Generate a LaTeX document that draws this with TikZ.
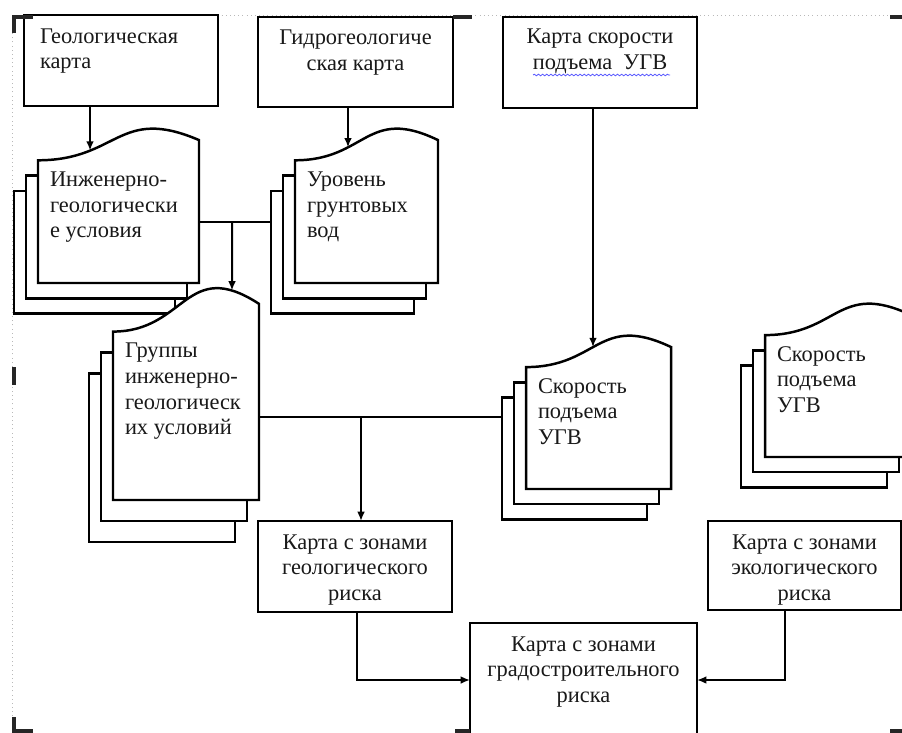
\documentclass[tikz,border=0pt]{standalone}
\usepackage{fontspec}
\setmainfont{Liberation Serif}
\usetikzlibrary{arrows.meta,intersections,decorations.pathmorphing}
\newlength\px
\setlength\px{0.625pt}
\newcommand\dfont{\fontsize{14pt}{16.1pt}\selectfont}
\tikzset{
  ln/.style={line width=1.55pt, draw=black, line join=miter},
  page/.style={ln, fill=white, rectangle, inner sep=0pt, outer sep=0pt},
  con/.style={line width=1.25pt},
  arr/.style={line width=1.25pt, -{Latex[length=5.8pt,width=4.8pt]}},
  doctext/.style={inner sep=0pt, outer sep=0pt, anchor=base west, font=\dfont, text=black!90},
  box/.style={ln, fill=white, inner sep=0pt, outer sep=0pt, anchor=north west, font=\dfont, text=black!90},
  frame/.style={draw=gray!55, dotted, line width=0.6pt},
  cmark/.style={line width=1.9pt, draw=black!85},
}
% #1 name, #2 x left, #3 x right, #4 y top of wave, #5 y bottom, #6 text
\newcommand\mdoc[6]{%
  \pgfmathsetmacro\mw{#3-#2}%
  \pgfmathsetmacro\mh{#5-#4}%
  \pgfmathsetmacro\yL{#4+0.198*\mh}%
  \pgfmathsetmacro\yR{#4+0.066*\mh}%
  \pgfmathsetmacro\cyy{#4-0.16*\mh}%
  \pgfmathsetmacro\cxx{#2+0.5*\mw}%
  \pgfmathsetmacro\dyy{0.1*\mh}%
  \pgfmathsetmacro\ph{#5-\yL}%
  \node[page, minimum width={\mw*0.625pt}, minimum height={\ph*0.625pt}, anchor=north west] (#1b) at (#2-24,\yL+2*\dyy) {};
  \node[page, minimum width={\mw*0.625pt}, minimum height={\ph*0.625pt}, anchor=north west] (#1m) at (#2-12,\yL+\dyy) {};
  \draw[ln, fill=white, name path=#1w] (#2,#5) -- (#2,\yL) .. controls (\cxx,\yL) and (\cxx,\cyy) .. (#3,\yR) -- (#3,#5) -- cycle;
  \coordinate (#1se) at (#3,#5);
  \node[doctext] (#1) at (#2+12,\yL+26) {\parbox[t]{300\px}{\raggedright #6}};
}
\begin{document}
\begin{tikzpicture}[x=\px, y=-\px]
\useasboundingbox (0,0) rectangle (902,733);
\clip (0,0) rectangle (902,733);
% dotted frame
\draw[frame] (12,733) -- (12,15) -- (902,15);

% top boxes
\node[box] (b1) at (24,15) {\parbox[c][91\px][t]{194\px}{\raggedright\leftskip=10pt\vspace*{6.3pt}\strut Геологическая\\карта}};
\node[box] (b2) at (258,17) {\parbox[c][90\px][t]{195\px}{\centering\vspace*{5.8pt}\strut Гидрогеологиче\\ская карта}};
\node[box] (b3) at (503,17) {\parbox[c][91\px][t]{194\px}{\centering\vspace*{5.3pt}\strut Карта скорости\\подъема\ \ УГВ}};
\draw[blue!65, line width=0.5pt, decorate, decoration={snake, amplitude=0.5pt, segment length=2.6pt}]
  ([shift={(-67,58)}]b3.north) -- ([shift={(70,58)}]b3.north);

% multi-documents
\mdoc{dA}{38}{199}{130}{283}{Инженерно-\\геологически\\е условия}
\mdoc{dB}{295}{438}{130}{283}{Уровень\\грунтовых\\вод}
\mdoc{dC}{113}{259}{290}{500}{Группы\\инженерно-\\геологическ\\их условий}
\mdoc{dD}{526}{671}{337}{489}{Скорость\\подъема\\УГВ}
\mdoc{dE}{765}{911}{305}{457}{Скорость\\подъема\\УГВ}

% risk boxes
\node[box] (g) at (258,521) {\parbox[c][91\px][t]{194\px}{\centering\vspace*{6.3pt}\strut Карта с зонами\\геологического\\риска}};
\node[box] (e) at (708,521) {\parbox[c][89\px][t]{193\px}{\centering\vspace*{6.3pt}\strut Карта с зонами\\экологического\\риска}};
\node[box] (r) at (470,623) {\parbox[c][140\px][t]{227\px}{\centering\vspace*{6.3pt}\strut Карта с зонами\\градостроительного\\риска}};

% connectors
\path[name path=v1] (90,100) -- (90,250);
\draw[arr, name intersections={of=v1 and dAw, by=i1}] (b1.south -| i1) -- (i1);
\path[name path=v3] (348,100) -- (348,250);
\draw[arr, name intersections={of=v3 and dBw, by=i3}] (b2.south -| i3) -- (i3);

\coordinate (j1) at (232,222);
\draw[con] (dAse |- j1) -- (dBb.west |- j1);
\path[name path=v2] (j1) -- ++(0,150);
\draw[arr, name intersections={of=v2 and dCw, by=i2}] (j1) -- (i2);

\path[name path=v4] (593,100) -- (593,420);
\draw[arr, name intersections={of=v4 and dDw, by=i4}] (b3.south -| i4) -- (i4);

\coordinate (j2) at (361,417);
\draw[con] (dCse |- j2) -- (dDb.west |- j2);
\draw[arr] (j2) -- (j2 |- g.north);

\coordinate (j3) at (357,680);
\draw[arr] (j3 |- g.south) -- (j3) -- (r.west |- j3);
\coordinate (j4) at (785,680);
\draw[arr] (j4 |- e.south) -- (j4) -- (r.east |- j4);

% corner marks of the canvas
\draw[cmark] (14,33) -- (14,17) -- (33,17);
\draw[cmark] (453,17) -- (472,17);
\draw[cmark] (890,17) -- (902,17);
\draw[cmark] (14,367) -- (14,385);
\draw[cmark] (14,717) -- (14,731) -- (33,731);
\draw[cmark] (455,731) -- (470,731);
\draw[cmark] (890,731) -- (902,731);
\end{tikzpicture}
\end{document}
